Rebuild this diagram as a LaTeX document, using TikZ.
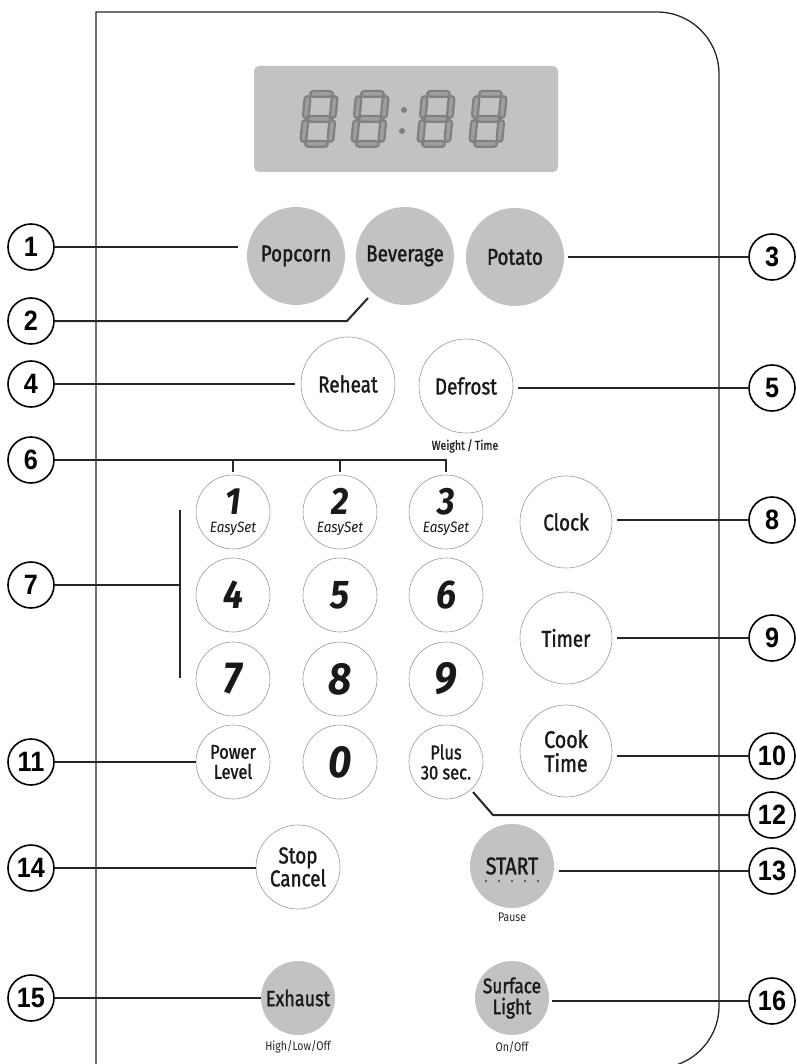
\documentclass[tikz,border=0pt]{standalone}
\usepackage{fontspec}
\newfontfamily\lab[FakeStretch=0.82,FakeBold=1.3]{Fira Sans}
\newfontfamily\labsm[FakeStretch=0.84]{Fira Sans}
\newfontfamily\keyf[FakeStretch=0.9]{Fira Sans}
\newfontfamily\calnum[FakeStretch=0.9]{Liberation Sans}
\usetikzlibrary{calc}
\definecolor{btngray}{gray}{0.76}
\definecolor{lcdgray}{gray}{0.76}
\definecolor{segdark}{gray}{0.5}
\definecolor{segmid}{gray}{0.62}
\begin{document}
\begin{tikzpicture}[x=1pt,y=-1pt,
 btn/.style={circle,draw=black!40,line width=0.6pt,fill=white,inner sep=0pt,text=black!90,align=center,font=\lab\fontsize{23}{23}\selectfont},
 gbtn/.style={btn,draw=none,fill=btngray},
 keyb/.style={btn,minimum size=74pt,font=\keyf\bfseries\itshape\fontsize{40}{40}\selectfont},
 smallb/.style={btn,minimum size=74pt,font=\lab\fontsize{20}{20}\selectfont},
 sub/.style={inner sep=0pt,text=black!85,font=\labsm\fontsize{12.5}{12.5}\selectfont},
 call/.style={circle,draw=black,line width=1.6pt,minimum size=46pt,inner sep=0pt,fill=white,font=\calnum\bfseries\fontsize{28}{28}\selectfont},
 lead/.style={line width=2pt,draw=black!85},
 segout/.style={line width=8pt,draw=segdark,line cap=round},
 segin/.style={line width=3.5pt,draw=segmid,line cap=round},
]
\useasboundingbox (0,0) rectangle (796,1064);
\clip (0,0) rectangle (796,1064);
% panel outline
\draw[line width=1.3pt,black!85] (96,1070) -- (96,12) -- (657,12) arc[start angle=90,end angle=0,radius=62pt] -- (719,1006) arc[start angle=0,end angle=-90,radius=62pt];
% display
\fill[lcdgray,rounded corners=5pt] (254,66) rectangle (558,172);
\foreach \dx in {299,350,416,468} {
  \begin{scope}[shift={(\dx+4,144)},xslant=0.1]
    \draw[segout] (5,-50) -- (22,-50) (27,-45) -- (27,-29) (27,-21) -- (27,-5) (5,0) -- (22,0) (0,-21) -- (0,-5) (0,-45) -- (0,-29) (5,-25) -- (22,-25);
    \draw[segin] (5,-50) -- (22,-50) (27,-45) -- (27,-29) (27,-21) -- (27,-5) (5,0) -- (22,0) (0,-21) -- (0,-5) (0,-45) -- (0,-29) (5,-25) -- (22,-25);
  \end{scope}
}
\fill[segdark] (404,110) circle (3pt) (402,131) circle (3pt);
% top row
\node[gbtn,minimum size=98pt] (pop) at (296,256) {Popcorn};
\node[gbtn,minimum size=98pt] (bev) at (405,256) {Beverage};
\node[gbtn,minimum size=98pt] (pot) at (515,257) {Potato};
% second row
\node[btn,minimum size=94pt] (reh) at (348,384) {Reheat};
\node[btn,minimum size=94pt] (def) at (466,386) {Defrost};
\node[sub,font=\lab\fontsize{13}{13}\selectfont] (wt) at (465,446) {Weight\,/\,Time};
% keypad
\node[keyb,font=\keyf\bfseries\itshape\fontsize{38}{38}\selectfont] (k1) at (233,512) {1\\[-20pt]{\mdseries\fontsize{15}{15}\selectfont EasySet}};
\node[keyb,font=\keyf\bfseries\itshape\fontsize{38}{38}\selectfont] (k2) at (340,512) {2\\[-20pt]{\mdseries\fontsize{15}{15}\selectfont EasySet}};
\node[keyb,font=\keyf\bfseries\itshape\fontsize{38}{38}\selectfont] (k3) at (446,512) {3\\[-20pt]{\mdseries\fontsize{15}{15}\selectfont EasySet}};
\node[keyb] (k4) at (233,595) {4};
\node[keyb] (k5) at (340,595) {5};
\node[keyb] (k6) at (446,595) {6};
\node[keyb,font=\keyf\bfseries\itshape\fontsize{45}{45}\selectfont] (k7) at (233,679) {7};
\node[keyb,font=\keyf\bfseries\itshape\fontsize{45}{45}\selectfont] (k8) at (340,679) {8};
\node[keyb,font=\keyf\bfseries\itshape\fontsize{45}{45}\selectfont] (k9) at (446,679) {9};
\node[smallb] (pow) at (233,762) {Power\\Level};
\node[keyb,font=\keyf\bfseries\itshape\fontsize{45}{45}\selectfont] (k0) at (340,762) {0};
\node[smallb] (plus) at (446,762) {Plus\\30 sec.};
% right column
\node[btn,minimum size=92pt] (clk) at (566,522) {Clock};
\node[btn,minimum size=92pt] (tmr) at (566,638) {Timer};
\node[btn,minimum size=92pt,font=\lab\fontsize{24}{24}\selectfont] (cook) at (566,751) {Cook\\Time};
% lower buttons
\node[btn,minimum size=84pt] (stop) at (298,867) {Stop\\Cancel};
\node[gbtn,minimum size=84pt,font=\lab\fontsize{24}{24}\selectfont] (start) at (512,866) {START};
\foreach \px in {486,499,512,525,538} \fill[black!75] (\px,881) circle (1.1pt);
\node[sub] (pause) at (512,917) {Pause};
\node[gbtn,minimum size=74pt,font=\lab\fontsize{22}{22}\selectfont] (exh) at (298,998) {Exhaust};
\node[sub] (hlo) at (298,1047) {High/Low/Off};
\node[gbtn,minimum size=74pt,font=\lab\fontsize{21}{21}\selectfont] (surf) at (512,998) {Surface\\Light};
\node[sub] (onoff) at (512,1047) {On/Off};
% callouts
\node[call] (c1) at (31,247) {1};
\node[call] (c2) at (31,321) {2};
\node[call] (c4) at (31,384) {4};
\node[call] (c6) at (31,460) {6};
\node[call] (c7) at (31,585) {7};
\node[call] (c11) at (31,762) {11};
\node[call] (c14) at (31,868) {14};
\node[call] (c15) at (31,998) {15};
\node[call] (c3) at (772,257) {3};
\node[call] (c5) at (772,388) {5};
\node[call] (c8) at (772,520) {8};
\node[call] (c9) at (772,638) {9};
\node[call] (c10) at (772,756) {10};
\node[call] (c12) at (772,815) {12};
\node[call] (c13) at (772,871) {13};
\node[call] (c16) at (772,1001) {16};
% leader lines
\coordinate (b2) at (347,321);
\coordinate (e2) at (368,298);
\coordinate (br7a) at (180,510);
\coordinate (br7b) at (180,678);
\coordinate (b12) at (493,815);
\coordinate (e12) at (473,792);
\draw[lead] (c1.east) -- ([xshift=-9pt]c1.east -| pop.west);
\draw[lead] (c2.east) -- (b2) -- (e2);
\draw[lead] (c3.west) -- ([xshift=4pt]c3.west -| pot.east);
\draw[lead] (c4.east) -- ([xshift=-6pt]c4.east -| reh.west);
\draw[lead] (c5.west) -- ([xshift=5pt]c5.west -| def.east);
\draw[lead] (c6.east) -- (c6.east -| k3.north) -- ([yshift=3pt]k3.north);
\draw[lead] (c6.east -| k1.north) -- ([yshift=3pt]k1.north);
\draw[lead] (c6.east -| k2.north) -- ([yshift=3pt]k2.north);
\draw[lead] (c7.east) -- (c7.east -| br7a);
\draw[lead,line width=2.5pt] (br7a) -- (br7b);
\draw[lead] (c8.west) -- ([xshift=5pt]c8.west -| clk.east);
\draw[lead] (c9.west) -- ([xshift=5pt]c9.west -| tmr.east);
\draw[lead] (c10.west) -- ([xshift=5pt]c10.west -| cook.east);
\draw[lead] (c11.east) -- (c11.east -| pow.west);
\draw[lead] (c12.west) -- (b12) -- (e12);
\draw[lead] (c13.west) -- ([xshift=5pt]c13.west -| start.east);
\draw[lead] (c14.east) -- (c14.east -| stop.west);
\draw[lead] (c15.east) -- (c15.east -| exh.west);
\draw[lead] (c16.west) -- ([xshift=3pt]c16.west -| surf.east);
\end{tikzpicture}
\end{document}
